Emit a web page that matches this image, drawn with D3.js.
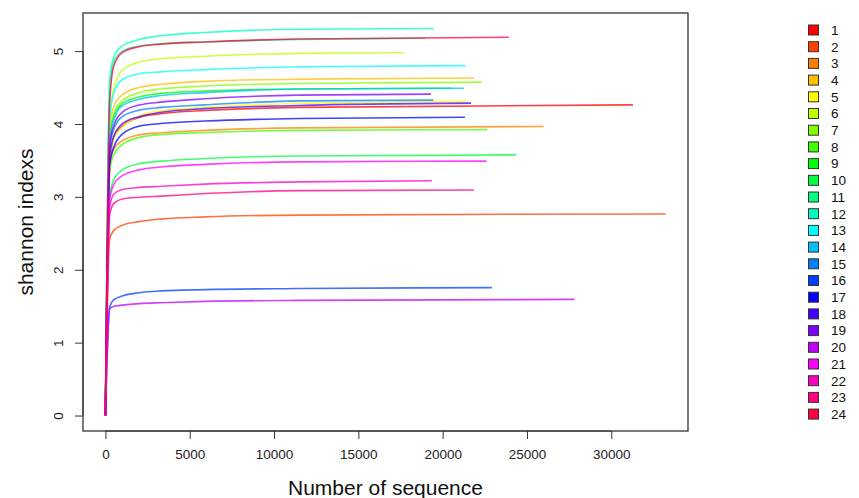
<!DOCTYPE html>
<html><head><meta charset="utf-8">
<script src="https://cdn.jsdelivr.net/npm/d3@7"></script>
<style>body{margin:0;background:#fff}text{font-family:"Liberation Sans",Arial,sans-serif}</style>
</head><body><svg id="c" width="859" height="498"></svg>
<script>
// Sample names
const samples = ["1","2","3","4","5","6","7","8","9","10","11","12","13","14","15","16","17","18","19","20","21","22","23","24"];
// Shared rarefaction depths (number of sequences)
const depths = [0, 250, 500, 1000, 2000, 3300, 5900, 11500];
// Final depth of each sample
const endDepth = [31280,33220,25990,21860,21400,17690,22310,22650,20500,24370,18950,19480,21340,21260,19450,22920,21320,21680,19310,27820,22600,19360,21860,23930];
// Shannon index of each sample at the shared depths, then at its final depth
const s1  = [0,3.35,3.82,3.97,4.09,4.14,4.185,4.227,4.262];
const s2  = [0,2.42,2.54,2.61,2.66,2.695,2.725,2.75,2.765];
const s3  = [0,3.40,3.66,3.77,3.85,3.88,3.912,3.946,3.966];
const s4  = [0,3.95,4.24,4.40,4.50,4.545,4.585,4.615,4.63];
const s5  = [0,3.50,3.80,3.96,4.11,4.18,4.227,4.28,4.31];
const s6  = [0,4.10,4.48,4.74,4.85,4.895,4.93,4.968,4.977];
const s7  = [0,3.85,4.14,4.32,4.43,4.48,4.52,4.556,4.574];
const s8  = [0,3.35,3.58,3.72,3.815,3.855,3.883,3.912,3.922];
const s9  = [0,3.80,4.10,4.28,4.37,4.42,4.45,4.48,4.49];
const s10 = [0,3.00,3.24,3.37,3.455,3.49,3.526,3.56,3.576];
const s11 = [0,4.40,4.85,5.00,5.07,5.10,5.125,5.16,5.175];
const s12 = [0,4.60,4.92,5.07,5.16,5.21,5.255,5.30,5.31];
const s13 = [0,4.05,4.43,4.61,4.69,4.715,4.745,4.785,4.80];
const s14 = [0,3.75,4.05,4.25,4.34,4.39,4.43,4.48,4.49];
const s15 = [0,3.65,3.93,4.10,4.19,4.227,4.262,4.317,4.327];
const s16 = [0,1.49,1.59,1.64,1.685,1.71,1.727,1.742,1.754];
const s17 = [0,3.45,3.68,3.86,3.97,4.007,4.04,4.075,4.093];
const s18 = [0,3.55,3.83,4.00,4.10,4.16,4.21,4.254,4.286];
const s19 = [0,3.70,3.98,4.16,4.26,4.30,4.345,4.396,4.41];
const s20 = [0,1.46,1.50,1.515,1.535,1.548,1.566,1.58,1.593];
const s21 = [0,2.95,3.17,3.29,3.37,3.41,3.445,3.48,3.49];
const s22 = [0,2.85,3.04,3.10,3.13,3.145,3.175,3.205,3.22];
const s23 = [0,2.75,2.91,2.97,2.995,3.01,3.045,3.085,3.095];
const s24 = [0,4.30,4.80,4.98,5.06,5.096,5.125,5.165,5.19];
const shannon = [s1,s2,s3,s4,s5,s6,s7,s8,s9,s10,s11,s12,s13,s14,s15,s16,s17,s18,s19,s20,s21,s22,s23,s24];
const xTicks = [0,5000,10000,15000,20000,25000,30000];
const yTicks = [0,1,2,3,4,5];

const svg = d3.select("#c");
const L=83, R=688, T=13, B=431;
const xmax = d3.max(endDepth), ymax = d3.max(shannon, s=>d3.max(s));
const xpad = xmax*0.04, ypad = ymax*0.04;
const x = d3.scaleLinear().domain([-xpad, xmax+xpad]).range([L,R]);
const y = d3.scaleLinear().domain([-ypad, ymax+ypad]).range([B,T]);
// R rainbow(24)
const color = samples.map((_,i)=>d3.hsl(360*i/24,1,0.5).formatHex());

const line = d3.line().x(d=>x(d[0])).y(d=>y(d[1])).curve(d3.curveMonotoneX);
const g = svg.append("g");
samples.forEach((s,i)=>{
  const ds = depths.concat([endDepth[i]]);
  const pts = ds.map((d,k)=>[d, shannon[i][k]]);
  g.append("path").attr("d", line(pts)).attr("fill","none")
   .attr("stroke", color[i]).attr("stroke-width",1.6).attr("stroke-opacity",0.75);
});

// box
svg.append("rect").attr("x",L).attr("y",T).attr("width",R-L).attr("height",B-T)
  .attr("fill","none").attr("stroke","#333").attr("stroke-width",1.3);

// x axis
const xa = svg.append("g").attr("transform",`translate(0,${B})`)
  .call(d3.axisBottom(x).tickValues(xTicks).tickSize(8).tickPadding(10).tickFormat(d3.format("d")));
xa.select(".domain").attr("stroke","#333").attr("d",`M${x(0)},0H${x(30000)}`);
xa.selectAll(".tick line").attr("stroke","#333");
xa.selectAll("text").attr("font-size",13.5).attr("fill","#222").attr("font-family","Liberation Sans, Arial, sans-serif");

// y axis
const ya = svg.append("g").attr("transform",`translate(${L},0)`)
  .call(d3.axisLeft(y).tickValues(yTicks).tickSize(8).tickFormat(d3.format("d")));
ya.select(".domain").attr("stroke","#333").attr("d",`M0,${y(0)}V${y(5)}`);
ya.selectAll(".tick line").attr("stroke","#333");
ya.selectAll("text").remove();
ya.selectAll(".tick").append("text").attr("transform","translate(-25,0) rotate(-90)")
  .attr("text-anchor","middle").attr("dy","0.35em").attr("font-size",13.5).attr("fill","#222").text(d=>d);

// titles
svg.append("text").attr("x",(L+R)/2).attr("y",495).attr("text-anchor","middle")
  .attr("font-size",21).attr("fill","#111").text("Number of sequence");
svg.append("text").attr("transform",`translate(33,${(T+B)/2}) rotate(-90)`).attr("text-anchor","middle")
  .attr("font-size",21).attr("fill","#111").text("shannon indexs");

// legend
const lg = svg.append("g");
samples.forEach((s,i)=>{
  const cy = 30 + i*16.7;
  lg.append("rect").attr("x",808.5).attr("y",cy-5).attr("width",10).attr("height",10)
    .attr("fill",color[i]).attr("stroke","#333").attr("stroke-width",1);
  lg.append("text").attr("x",831).attr("y",cy).attr("dy","0.36em").attr("font-size",13.5).attr("fill","#111").text(s);
});
</script></body></html>
